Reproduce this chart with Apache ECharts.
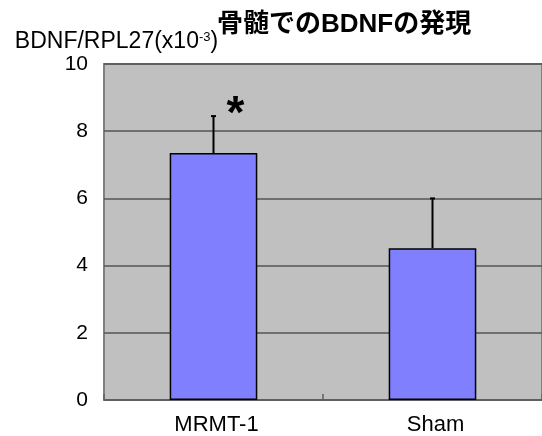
<!DOCTYPE html>
<html>
<head>
<meta charset="utf-8">
<script src="https://cdn.jsdelivr.net/npm/echarts@6/dist/echarts.min.js"></script>
<style>
  html, body { margin: 0; padding: 0; background: #fff; }
  #chart { width: 542px; height: 436px; }
</style>
</head>
<body>
<div id="chart"></div>
<script>
// BDNF expression in bone marrow, mean ± SD
const categories = ['MRMT-1', 'Sham'];
const means = [7.35, 4.52];
const sds = [1.1, 1.48];
const significance = ['*', ''];

const FONT = '"Liberation Sans", Arial, "Noto Sans CJK JP", sans-serif';

const chart = echarts.init(document.getElementById('chart'), null, { renderer: 'canvas' });

chart.setOption({
  animation: false,
  backgroundColor: '#ffffff',
  title: {
    text: '骨髄でのBDNFの発現',
    left: 212,
    top: 7,
    textStyle: { fontFamily: FONT, fontSize: 26, fontWeight: 'bold', color: '#000' }
  },
  grid: {
    left: 104,
    right: -3,
    top: 64,
    bottom: 35,
    show: true,
    backgroundColor: '#C0C0C0',
    borderColor: '#808080',
    borderWidth: 2
  },
  xAxis: {
    type: 'category',
    data: categories,
    axisLine: { show: false },
    axisTick: { show: true, inside: true, length: 6, lineStyle: { color: '#606060', width: 1.5 } },
    axisLabel: { fontFamily: FONT, fontSize: 22, color: '#000', margin: 14, padding: [0, 0, 0, 6] }
  },
  yAxis: {
    type: 'value',
    min: 0,
    max: 10,
    interval: 2,
    name: '{a|BDNF/RPL27(x10}{s|-3}{a|)}',
    nameLocation: 'end',
    nameGap: 10,
    nameTextStyle: {
      align: 'center',
      padding: [0, 0, 0, 25],
      rich: {
        a: { fontFamily: FONT, fontSize: 23, color: '#000' },
        s: { fontFamily: FONT, fontSize: 13, color: '#000', padding: [0, 0, 10, 0] }
      }
    },
    axisLine: { show: false },
    axisTick: { show: false },
    axisLabel: { fontFamily: FONT, fontSize: 21, color: '#000', margin: 16 },
    splitLine: { show: true, lineStyle: { color: '#555555', width: 1.5 } }
  },
  series: [
    {
      type: 'bar',
      data: means,
      barWidth: '40%',
      itemStyle: { color: '#8080FF', borderColor: '#000', borderWidth: 1.5 },
      z: 2
    },
    {
      type: 'custom',
      z: 3,
      data: categories.map((c, i) => [i, means[i], sds[i]]),
      renderItem: function (params, api) {
        const i = api.value(0);
        const base = api.coord([i, api.value(1)]);
        const top = api.coord([i, api.value(1) + api.value(2)]);
        const cap = 2.5;
        const children = [
          { type: 'line', shape: { x1: base[0], y1: base[1], x2: top[0], y2: top[1] },
            style: { stroke: '#000', lineWidth: 2 } },
          { type: 'line', shape: { x1: top[0] - cap, y1: top[1], x2: top[0] + cap, y2: top[1] },
            style: { stroke: '#000', lineWidth: 2 } }
        ];
        const mark = significance[i];
        if (mark) {
          children.push({
            type: 'text',
            style: {
              text: mark,
              x: top[0] + 22,
              y: top[1] + 22,
              align: 'center',
              verticalAlign: 'bottom',
              fontFamily: FONT,
              fontSize: 46,
              fontWeight: 'bold',
              fill: '#000'
            }
          });
        }
        return { type: 'group', children: children };
      }
    }
  ]
});
</script>
</body>
</html>
